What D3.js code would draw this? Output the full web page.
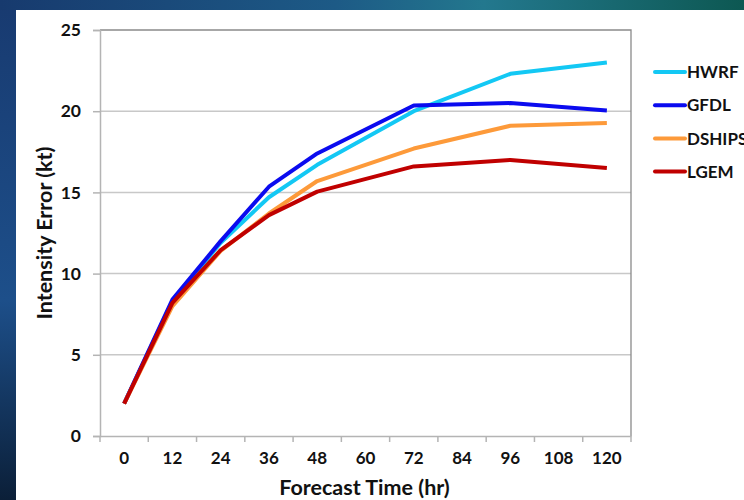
<!DOCTYPE html>
<html>
<head>
    <meta charset="utf-8">
    <script src="https://d3js.org/d3.v7.min.js"></script>
    <style>
        body { margin: 0; background: #163a6c; }
        text { font-family: Lato, "Open Sans", sans-serif; font-weight: bold; fill: #111; }
    </style>
</head>
<body>
    <svg id="chart"></svg>
    <script>
        // forecast hours shown on the axis
        var hours = [0, 12, 24, 36, 48, 60, 72, 84, 96, 108, 120];
        // hours that have values
        var dataHours = [0, 12, 24, 36, 48, 72, 96, 120];
        var models = ["HWRF", "GFDL", "DSHIPS", "LGEM"];
        var hwrf = [2.0, 8.3, 11.9, 14.7, 16.7, 20.0, 22.3, 23.0];
        var gfdl = [2.0, 8.4, 12.0, 15.35, 17.4, 20.35, 20.5, 20.05];
        var dships = [2.0, 8.0, 11.4, 13.7, 15.7, 17.7, 19.1, 19.27];
        var lgem = [2.0, 8.2, 11.45, 13.6, 15.05, 16.6, 17.0, 16.5];
        var yTicks = [0, 5, 10, 15, 20, 25];
        var colors = ["#13c8f4", "#0b0bef", "#fd9a3a", "#c00000"];

        var W = 744, H = 500;
        var margin = { top: 30, left: 100, right: 113, bottom: 64 };
        var width = W - margin.left - margin.right,
            height = H - margin.top - margin.bottom;

        var svg = d3.select("#chart").attr("width", W).attr("height", H);

        // background gradients
        var defs = svg.append("defs");
        var g1 = defs.append("linearGradient").attr("id", "topband");
        g1.append("stop").attr("offset", "0%").attr("stop-color", "#173a6e");
        g1.append("stop").attr("offset", "45%").attr("stop-color", "#1d5a86");
        g1.append("stop").attr("offset", "65%").attr("stop-color", "#23788e");
        g1.append("stop").attr("offset", "100%").attr("stop-color", "#0d5852");
        var g2 = defs.append("linearGradient").attr("id", "leftband")
            .attr("x1", 0).attr("y1", 0).attr("x2", 0).attr("y2", 1);
        g2.append("stop").attr("offset", "0%").attr("stop-color", "#183a70");
        g2.append("stop").attr("offset", "60%").attr("stop-color", "#1d4f8a");
        g2.append("stop").attr("offset", "100%").attr("stop-color", "#0b1f38");

        svg.append("rect").attr("width", W).attr("height", H).attr("fill", "url(#leftband)");
        svg.append("rect").attr("width", W).attr("height", 10).attr("fill", "url(#topband)");
        svg.append("rect").attr("x", 16).attr("y", 10).attr("width", W - 16).attr("height", H - 10).attr("fill", "#fff");

        var g = svg.append("g").attr("transform", "translate(" + margin.left + "," + margin.top + ")");

        var x = d3.scaleBand().domain(hours).range([0, width]);
        var y = d3.scaleLinear().domain([0, 25]).range([height, 0]);

        // gridlines
        g.append("g").selectAll("line")
            .data(yTicks.slice(1, -1))
            .join("line")
            .attr("x1", 0).attr("x2", width)
            .attr("y1", d => y(d)).attr("y2", d => y(d))
            .attr("stroke", "#c8c8c8").attr("stroke-width", 1.5);

        // plot frame (top and right)
        g.append("path")
            .attr("d", "M0," + y(25) + "H" + width + "V" + height)
            .attr("fill", "none").attr("stroke", "#8a8a8a").attr("stroke-width", 1.3);

        // y axis
        var yAxis = g.append("g")
            .call(d3.axisLeft(y).tickValues(yTicks).tickSize(7).tickPadding(12));
        yAxis.selectAll("path, line").attr("stroke", "#b4b4b4").attr("stroke-width", 1.5);
        yAxis.selectAll("text").style("font-size", "17.5px");

        // x axis, ticks between categories
        var xAxis = g.append("g").attr("transform", "translate(0," + height + ")")
            .call(d3.axisBottom(x).tickSize(0).tickPadding(16));
        xAxis.select("path").attr("stroke", "#b4b4b4").attr("stroke-width", 1.5);
        xAxis.selectAll("text").style("font-size", "17px");
        var bounds = hours.map(h => x(h)).concat([width]);
        xAxis.selectAll(".sep").data(bounds).join("line")
            .attr("class", "sep")
            .attr("x1", d => d).attr("x2", d => d)
            .attr("y1", 0).attr("y2", 6)
            .attr("stroke", "#b4b4b4").attr("stroke-width", 1.5);

        // axis titles
        svg.append("text")
            .attr("x", margin.left + width / 2 - 1).attr("y", 495)
            .attr("text-anchor", "middle").style("font-size", "21.5px")
            .text("Forecast Time (hr)");
        svg.append("text")
            .attr("transform", "translate(52," + (margin.top + height / 2) + ") rotate(-90)")
            .attr("text-anchor", "middle").style("font-size", "21.5px")
            .text("Intensity Error (kt)");

        // lines
        var series = [hwrf, gfdl, dships, lgem];
        var line = d3.line()
            .x((d, i) => x(dataHours[i]) + x.bandwidth() / 2)
            .y(d => y(d));
        g.append("g").selectAll("path")
            .data(series)
            .join("path")
            .attr("d", d => line(d))
            .attr("fill", "none")
            .attr("stroke", (d, i) => colors[i])
            .attr("stroke-width", 4)
            .attr("stroke-linejoin", "round");

        // legend
        var legend = svg.append("g").attr("transform", "translate(655,72)");
        models.forEach(function (m, i) {
            legend.append("line")
                .attr("x1", 0).attr("x2", 30)
                .attr("y1", i * 33.2).attr("y2", i * 33.2)
                .attr("stroke", colors[i]).attr("stroke-width", 4).attr("stroke-linecap", "round");
            legend.append("text")
                .attr("x", 32).attr("y", i * 33.2)
                .attr("dy", "0.36em").style("font-size", "17px")
                .text(m);
        });
    </script>
</body>
</html>
